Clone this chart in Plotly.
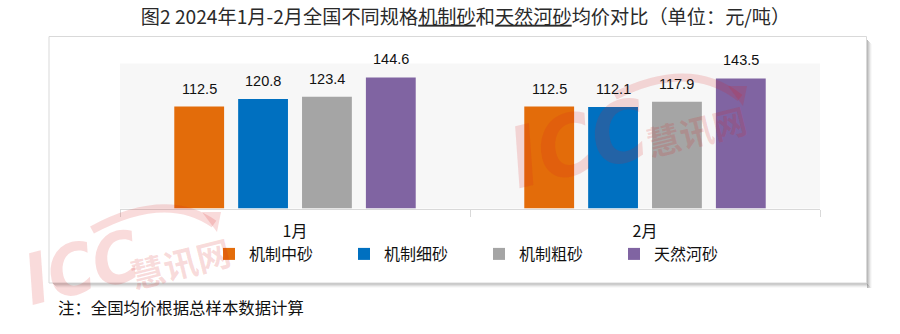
import plotly.graph_objects as go

# ---- data ----
months = ["1月", "2月"]
series_names = ["机制中砂", "机制细砂", "机制粗砂", "天然河砂"]
series_values = [
    [112.5, 112.5],   # 机制中砂
    [120.8, 112.1],   # 机制细砂
    [123.4, 117.9],   # 机制粗砂
    [144.6, 143.5],   # 天然河砂
]
colors = ["#E36C0A", "#0070C0", "#A5A5A5", "#8064A2"]

title_text = ("图2 2024年1月-2月全国不同规格<u>机制砂</u>和<u>天然河砂</u>"
              "均价对比（单位：元/吨）")
note_text = "注：全国均价根据总样本数据计算"

# ---- geometry helpers (pixel -> paper) ----
W, H = 900, 334
def px(x):
    return x / W
def py(y):
    return 1 - y / H

PLOT_L, PLOT_R, PLOT_T, PLOT_B = 120, 820, 63.5, 208.5
BARGAP, BARGROUPGAP = 0.27, 0.22
CJK = "Noto Sans CJK SC, Microsoft YaHei, sans-serif"

fig = go.Figure()
for name, vals, col in zip(series_names, series_values, colors):
    fig.add_trace(go.Bar(
        x=months, y=vals, name=name,
        marker=dict(color=col, line=dict(width=0)),
        hoverinfo="skip",
    ))

# value labels above each bar
cat_px = (PLOT_R - PLOT_L) / len(months)
slot_px = cat_px * (1 - BARGAP) / len(series_names)
n = len(series_names)
for i, vals in enumerate(series_values):
    for m, v in zip(months, vals):
        fig.add_annotation(
            x=m, y=v, xref="x", yref="y", text=f"{v:.1f}",
            showarrow=False, xshift=(i - (n - 1) / 2) * slot_px, yshift=18,
            xanchor="center", yanchor="middle",
            font=dict(family="Liberation Sans, Arial", size=14.5, color="#111"),
        )

shapes = []
# drop shadow of the chart frame
for k, alpha in enumerate([0.42, 0.3, 0.2, 0.1, 0.04]):
    c = f"rgba(90,90,90,{alpha})"
    shapes.append(dict(type="rect", xref="paper", yref="paper", layer="below",
                       x0=px(867 + k), x1=px(868 + k), y0=py(288), y1=py(40 + k),
                       line=dict(width=0), fillcolor=c))
    shapes.append(dict(type="rect", xref="paper", yref="paper", layer="below",
                       x0=px(53 + k), x1=px(867 + k), y0=py(284 + k), y1=py(283 + k),
                       line=dict(width=0), fillcolor=c))
# chart frame
shapes.append(dict(type="rect", xref="paper", yref="paper", layer="below",
                   x0=px(49), x1=px(866.5), y0=py(283), y1=py(36.5),
                   line=dict(color="#D9D9D9", width=1), fillcolor="rgba(0,0,0,0)"))

# ICC watermark swooshes
def swoosh(x0, y0, xm, ym, x1, y1):
    return f"M {px(x0)},{py(y0)} Q {px(xm)},{py(ym)} {px(x1)},{py(y1)}"
wm = "rgba(215,30,30,0.16)"
for (a, b, c_, d, e, f) in [(92, 230, 166, 190, 214, 224), (615, 96, 690, 58, 740, 98)]:
    shapes.append(dict(type="path", xref="paper", yref="paper", layer="above",
                       path=swoosh(a, b, c_, d, e, f), line=dict(color=wm, width=8)))
    shapes.append(dict(type="path", xref="paper", yref="paper", layer="above",
                       path=f"M {px(e-12)},{py(f-12)} L {px(e+7)},{py(f-12)} L {px(e+3)},{py(f+8)} Z",
                       line=dict(width=0), fillcolor=wm))

for (ix, iy, hx, hy, sz) in [(82, 268, 180, 262, 70), (578, 144, 696, 130, 84)]:
    fig.add_annotation(x=px(ix), y=py(iy), xref="paper", yref="paper", text="<b><i>ICC</i></b>",
                       showarrow=False, textangle=-14, xanchor="center", yanchor="middle",
                       font=dict(family="Liberation Sans Narrow, DejaVu Sans Condensed, Liberation Sans",
                                 size=sz, color=wm))
    fig.add_annotation(x=px(hx), y=py(hy), xref="paper", yref="paper", text="<b>慧讯网</b>",
                       showarrow=False, textangle=-14, xanchor="center", yanchor="middle",
                       font=dict(family=CJK, size=34, color=wm))

# footnote
fig.add_annotation(x=px(56), y=py(307), xref="paper", yref="paper", text=note_text,
                   showarrow=False, xanchor="left", yanchor="middle",
                   font=dict(family=CJK, size=16.4, color="#111"))

fig.update_layout(
    width=W, height=H,
    margin=dict(l=0, r=0, t=0, b=0, autoexpand=False),
    paper_bgcolor="white",
    plot_bgcolor="#F7F7F7",
    barmode="group",
    bargap=BARGAP, bargroupgap=BARGROUPGAP,
    shapes=shapes,
    title=dict(text=title_text, x=px(465.5), y=py(17), xanchor="center", yanchor="middle",
               xref="paper", yref="paper",
               font=dict(family=CJK, size=19.2, color="#2a2a2a")),
    xaxis=dict(domain=[px(PLOT_L), px(PLOT_R)], showline=True, linecolor="#D9D9D9", linewidth=1,
               ticks="outside", tickson="boundaries", ticklen=7, tickcolor="#D9D9D9",
               ticklabelstandoff=8,
               tickfont=dict(family=CJK, size=16, color="#111"), showgrid=False,
               fixedrange=True),
    yaxis=dict(domain=[py(PLOT_B), py(PLOT_T)], range=[0, 160], visible=False,
               showgrid=False, zeroline=False, fixedrange=True),
    legend=dict(orientation="h", x=px(209), y=py(254), xanchor="left", yanchor="middle",
                entrywidth=90, entrywidthmode="pixels", traceorder="normal",
                font=dict(family=CJK, size=16, color="#111"), bgcolor="rgba(0,0,0,0)"),
    showlegend=True,
)

fig.write_html("out.html")
